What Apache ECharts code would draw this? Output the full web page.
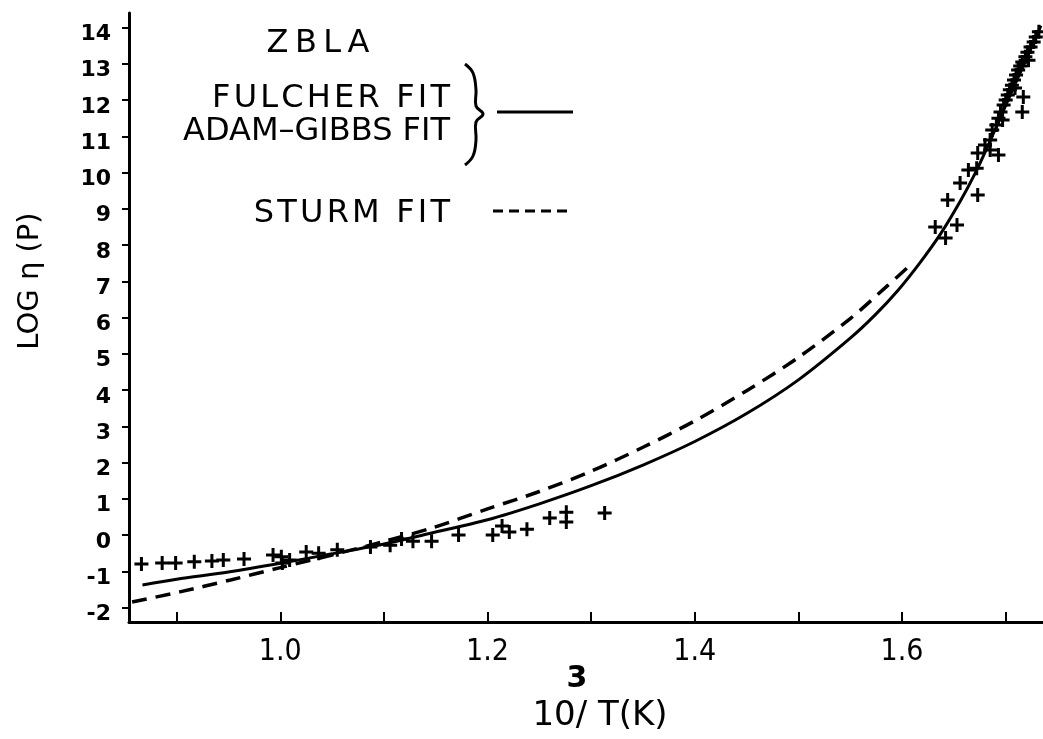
<!DOCTYPE html>
<html><head><meta charset="utf-8">
<script src="https://cdn.jsdelivr.net/npm/echarts@6/dist/echarts.min.js"></script>
<style>html,body{margin:0;padding:0;background:#fff;} #c{width:1043px;height:739px;}</style>
</head><body><div id="c"></div>
<script>
// ---- data ----
const fulcherFit = [[0.867,-1.38],[0.90,-1.22],[0.95,-1.02],[1.00,-0.78],[1.05,-0.52],[1.10,-0.25],[1.145,0.05],[1.20,0.42],[1.25,0.86],[1.30,1.36],[1.35,1.93],[1.40,2.58],[1.45,3.35],[1.50,4.28],[1.55,5.43],[1.575,6.1],[1.597,6.78],[1.617,7.5],[1.637,8.3],[1.656,9.2],[1.67,9.95],[1.682,10.68],[1.70,11.85],[1.717,12.95],[1.734,14.05]];
const sturmFit = [[0.857,-1.85],[0.903,-1.57],[0.952,-1.24],[1.0,-0.9],[1.05,-0.55],[1.1,-0.18],[1.147,0.2],[1.20,0.72],[1.25,1.2],[1.30,1.76],[1.35,2.42],[1.40,3.15],[1.45,3.98],[1.50,4.9],[1.55,5.97],[1.586,6.88],[1.608,7.45]];
const measured = [[0.866,-0.80],[0.886,-0.77],[0.899,-0.77],[0.917,-0.74],[0.934,-0.72],[0.945,-0.69],[0.965,-0.66],[0.993,-0.55],[1.001,-0.6],[1.002,-0.77],[1.009,-0.69],[1.025,-0.47],[1.037,-0.5],[1.055,-0.41],[1.087,-0.33],[1.106,-0.28],[1.117,-0.11],[1.128,-0.17],[1.146,-0.17],[1.172,0.0],[1.205,0.0],[1.214,0.25],[1.221,0.08],[1.238,0.16],[1.26,0.47],[1.276,0.63],[1.276,0.36],[1.313,0.61],
[1.632,8.5],[1.642,8.19],[1.653,8.55],[1.644,9.24],[1.656,9.71],[1.673,9.38],[1.664,10.07],[1.672,10.12],[1.673,10.54],[1.693,10.48],[1.716,11.67],[1.717,12.08],
[1.680,10.76],[1.685,10.9],[1.687,11.17],[1.691,11.31],[1.693,11.5],[1.695,11.67],[1.698,11.86],[1.700,12.0],[1.702,12.14],[1.704,12.28],[1.706,12.41],[1.708,12.55],[1.710,12.69],[1.712,12.83],[1.714,12.94],[1.716,13.05],[1.719,13.19],[1.721,13.32],[1.724,13.46],[1.727,13.6],[1.729,13.74],[1.732,13.88],[1.685,10.62],[1.697,11.45],[1.709,12.33],[1.722,13.1]];
const yTickValues = [-2,-1,0,1,2,3,4,5,6,7,8,9,10,11,12,13,14];
const xTickValues = [0.9,1.0,1.1,1.2,1.3,1.4,1.5,1.6,1.7];
const xLabelValues = [1.0,1.2,1.4,1.6];

const plusPath = 'path://M5.5,0H8.5V5.5H14V8.5H8.5V14H5.5V8.5H0V5.5H5.5Z';
const legendFont = "32px 'DejaVu Sans'";
const hs = '\u200A';
const spaced = s => s.split('').join(hs);

const chart = echarts.init(document.getElementById('c'), null, {renderer:'canvas'});
chart.setOption({
  animation: false,
  backgroundColor: '#fff',
  grid: {left: 129, right: 0, top: 13, bottom: 117},
  xAxis: {
    type: 'value', min: 0.854, max: 1.736,
    axisLine: {onZero: false, lineStyle: {color: '#000', width: 3}},
    axisTick: {inside: true, length: 10, lineStyle: {color: '#000', width: 2}, customValues: xTickValues},
    axisLabel: {customValues: xLabelValues, formatter: v => v.toFixed(1), color: '#000', margin: 15,
      fontSize: 30, fontFamily: "'Liberation Sans Narrow','DejaVu Sans Condensed','Liberation Sans'"},
    splitLine: {show: false}
  },
  yAxis: {
    type: 'value', min: -2.4, max: 14.4,
    axisLine: {onZero: false, lineStyle: {color: '#000', width: 3}},
    axisTick: {inside: false, length: 7, lineStyle: {color: '#000', width: 2}, customValues: yTickValues},
    axisLabel: {customValues: yTickValues, formatter: v => String(Math.round(v)), color: '#000', margin: 18,
      fontSize: 22, fontWeight: 'bold', fontFamily: "'DejaVu Sans'", verticalAlign: 'top', lineHeight: 14},
    splitLine: {show: false}
  },
  series: [
    {type: 'line', data: fulcherFit, showSymbol: false, smooth: 0.3, lineStyle: {color: '#000', width: 3}},
    {type: 'line', data: sturmFit, showSymbol: false, smooth: 0.3, lineStyle: {color: '#000', width: 3.5, type: [15, 9]}},
    {type: 'scatter', data: measured, symbol: plusPath, symbolSize: 14, itemStyle: {color: '#000', opacity: 1}}
  ],
  graphic: [
    {type: 'text', x: 318, y: 44, style: {text: 'Z\u2009B\u2009L\u2009A', font: legendFont, textAlign: 'center', textVerticalAlign: 'middle', fill: '#000'}},
    {type: 'text', x: 450, y: 99, style: {text: spaced('FULCHER FIT'), font: legendFont, textAlign: 'right', textVerticalAlign: 'middle', fill: '#000'}},
    {type: 'text', x: 450, y: 132, style: {text: 'ADAM\u2013GIBBS FIT', font: legendFont, textAlign: 'right', textVerticalAlign: 'middle', fill: '#000'}},
    {type: 'text', x: 450, y: 214, style: {text: spaced('STURM FIT'), font: legendFont, textAlign: 'right', textVerticalAlign: 'middle', fill: '#000'}},
    {type: 'polyline', shape: {points: [[465,64],[473,73],[476,90],[476,106],[483,114],[476,122],[476,140],[473,156],[465,165]], smooth: 0.4},
      style: {stroke: '#000', lineWidth: 3, fill: null}},
    {type: 'line', shape: {x1: 497, y1: 112, x2: 573, y2: 112}, style: {stroke: '#000', lineWidth: 3}},
    {type: 'line', shape: {x1: 493, y1: 211, x2: 570, y2: 211}, style: {stroke: '#000', lineWidth: 3, lineDash: [10, 6]}},
    {type: 'text', x: 30, y: 281, rotation: Math.PI / 2, style: {text: 'LOG η (P)', font: "29px 'DejaVu Sans'", textAlign: 'center', textVerticalAlign: 'middle', fill: '#000'}},
    {type: 'text', x: 600, y: 716, style: {text: '10/ T(K)', font: "34px 'DejaVu Sans'", textAlign: 'center', textVerticalAlign: 'middle', fill: '#000'}},
    {type: 'text', x: 577, y: 679, style: {text: '3', font: "bold 30px 'DejaVu Sans'", textAlign: 'center', textVerticalAlign: 'middle', fill: '#000'}}
  ]
});
</script>
</body></html>
